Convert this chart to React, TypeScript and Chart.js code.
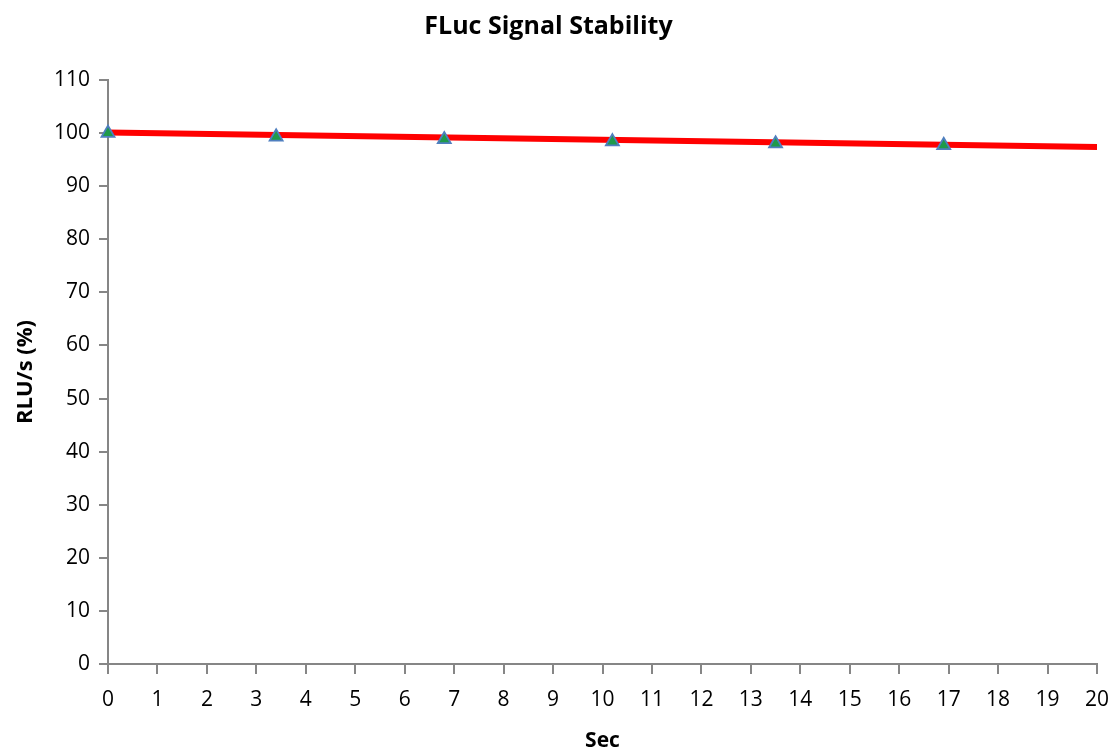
import React, { useEffect, useRef } from "react";
import { Chart, registerables } from "chart.js";

Chart.register(...registerables);

const chartTitle = "FLuc Signal Stability";
const xAxisTitle = "Sec";
const yAxisTitle = "RLU/s (%)";

const timeSec = [0, 3.4, 6.8, 10.2, 13.5, 16.9];
const rluPercent = [100, 99.3, 98.8, 98.4, 98.0, 97.7];

const trendX = [0, 20];
const trendY = [100.1, 97.4];

const xMin = 0;
const xMax = 20;
const xStep = 1;
const yMin = 0;
const yMax = 110;
const yStep = 10;

const FONT = "'Open Sans', Lato, sans-serif";

export default function App() {
  const ref = useRef<HTMLCanvasElement | null>(null);

  useEffect(() => {
    if (!ref.current) return;
    const pts = timeSec.map((x, i) => ({ x, y: rluPercent[i] }));
    const trend = trendX.map((x, i) => ({ x, y: trendY[i] }));
    const axisColor = "#868686";
    const chart = new Chart(ref.current, {
      type: "scatter",
      data: {
        datasets: [
          {
            label: "RLU/s",
            data: pts,
            pointStyle: "triangle",
            pointRadius: 7.5,
            pointBackgroundColor: "#1f9a4a",
            pointBorderColor: "#4f7fbf",
            pointBorderWidth: 1.8,
            showLine: false,
            clip: false,
          } as any,
          {
            label: "Trend",
            data: trend,
            showLine: true,
            borderColor: "#ff0000",
            borderWidth: 6,
            pointRadius: 0,
            fill: false,
          },
        ],
      },
      options: {
        animation: false,
        responsive: true,
        maintainAspectRatio: false,
        layout: { padding: { left: 0, right: 15, top: 0, bottom: 0 } },
        plugins: {
          legend: { display: false },
          tooltip: { enabled: false },
          title: {
            display: true,
            text: chartTitle,
            color: "#000",
            font: { family: FONT, size: 25, weight: "bold", lineHeight: 1.2 },
            padding: { top: 12, bottom: 38 },
          },
        },
        scales: {
          x: {
            type: "linear",
            min: xMin,
            max: xMax,
            afterFit: (s: any) => {
              s.height = 87;
              s.paddingLeft = 0;
              s.paddingRight = 0;
            },
            ticks: {
              stepSize: xStep,
              color: "#000",
              font: { family: FONT, size: 21, lineHeight: 1.2 },
              padding: 13,
              maxRotation: 0,
              autoSkip: false,
            },
            grid: {
              drawOnChartArea: false,
              drawTicks: true,
              tickLength: 10,
              color: axisColor,
              lineWidth: 2,
            },
            border: { color: axisColor, width: 2 },
            title: {
              display: true,
              text: xAxisTitle,
              color: "#000",
              font: { family: FONT, size: 21, weight: "bold", lineHeight: 1 },
              padding: { top: 0, bottom: -1 },
            },
          },
          y: {
            type: "linear",
            min: yMin,
            max: yMax,
            afterFit: (s: any) => {
              s.width = 108;
            },
            ticks: {
              stepSize: yStep,
              color: "#000",
              font: { family: FONT, size: 21 },
              padding: 9,
            },
            grid: {
              drawOnChartArea: false,
              drawTicks: true,
              tickLength: 9,
              color: axisColor,
              lineWidth: 2,
            },
            border: { color: axisColor, width: 2 },
            title: {
              display: true,
              text: yAxisTitle,
              color: "#000",
              font: { family: FONT, size: 22, weight: "bold", lineHeight: 1 },
              padding: { top: 15, bottom: 0 },
            },
          },
        },
      },
    });
    return () => chart.destroy();
  }, []);

  return (
    <div
      style={{
        position: "fixed",
        left: 0,
        top: 0,
        width: 1112,
        height: 751,
        background: "#fff",
      }}
    >
      <canvas ref={ref} />
    </div>
  );
}
